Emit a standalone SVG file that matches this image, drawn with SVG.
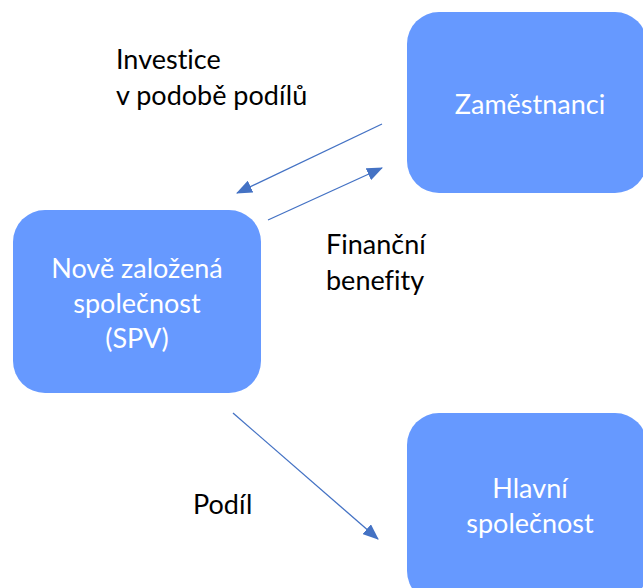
<svg xmlns="http://www.w3.org/2000/svg" width="643" height="588" viewBox="0 0 643 588">
<defs>
<style>
.box{fill:#6699FF;}
.nt{font-family:Lato,"Open Sans","Liberation Sans",sans-serif;font-size:27px;fill:#ffffff;text-anchor:middle;font-variant-ligatures:none;}
.lb{font-family:Lato,"Open Sans","Liberation Sans",sans-serif;font-size:27px;fill:#000000;font-variant-ligatures:none;}
.conn{stroke:#4472C4;stroke-width:1.3;fill:none;marker-end:url(#ah);}
</style>
<marker id="ah" markerWidth="16" markerHeight="13" refX="15" refY="6.5" orient="auto" markerUnits="userSpaceOnUse">
<path d="M0,0 L16,6.5 L0,13 Z" fill="#4472C4"/>
</marker>
</defs>
<rect width="643" height="588" fill="#ffffff"/>
<g id="zamestnanci">
<rect class="box" x="407" y="12" width="240" height="181" rx="32"/>
<text class="nt" x="530" y="114">Zaměstnanci</text>
</g>
<g id="spv">
<rect class="box" x="13" y="210" width="248" height="183" rx="32"/>
<text class="nt" x="137" y="278">Nově založená</text>
<text class="nt" x="137" y="313">společnost</text>
<text class="nt" x="137" y="348">(SPV)</text>
</g>
<g id="hlavni">
<rect class="box" x="407" y="413" width="240" height="190" rx="32"/>
<text class="nt" x="530" y="498">Hlavní</text>
<text class="nt" x="530" y="533">společnost</text>
</g>
<g id="connectors">
<line class="conn" x1="382" y1="124" x2="237" y2="193"/>
<line class="conn" x1="268" y1="220" x2="382" y2="168"/>
<line class="conn" x1="233" y1="413" x2="378" y2="539"/>
</g>
<g id="labels">
<text class="lb" x="116" y="69">Investice</text>
<text class="lb" x="116" y="105">v podobě podílů</text>
<text class="lb" x="326" y="254">Finanční</text>
<text class="lb" x="326" y="290">benefity</text>
<text class="lb" x="193" y="514">Podíl</text>
</g>
</svg>
